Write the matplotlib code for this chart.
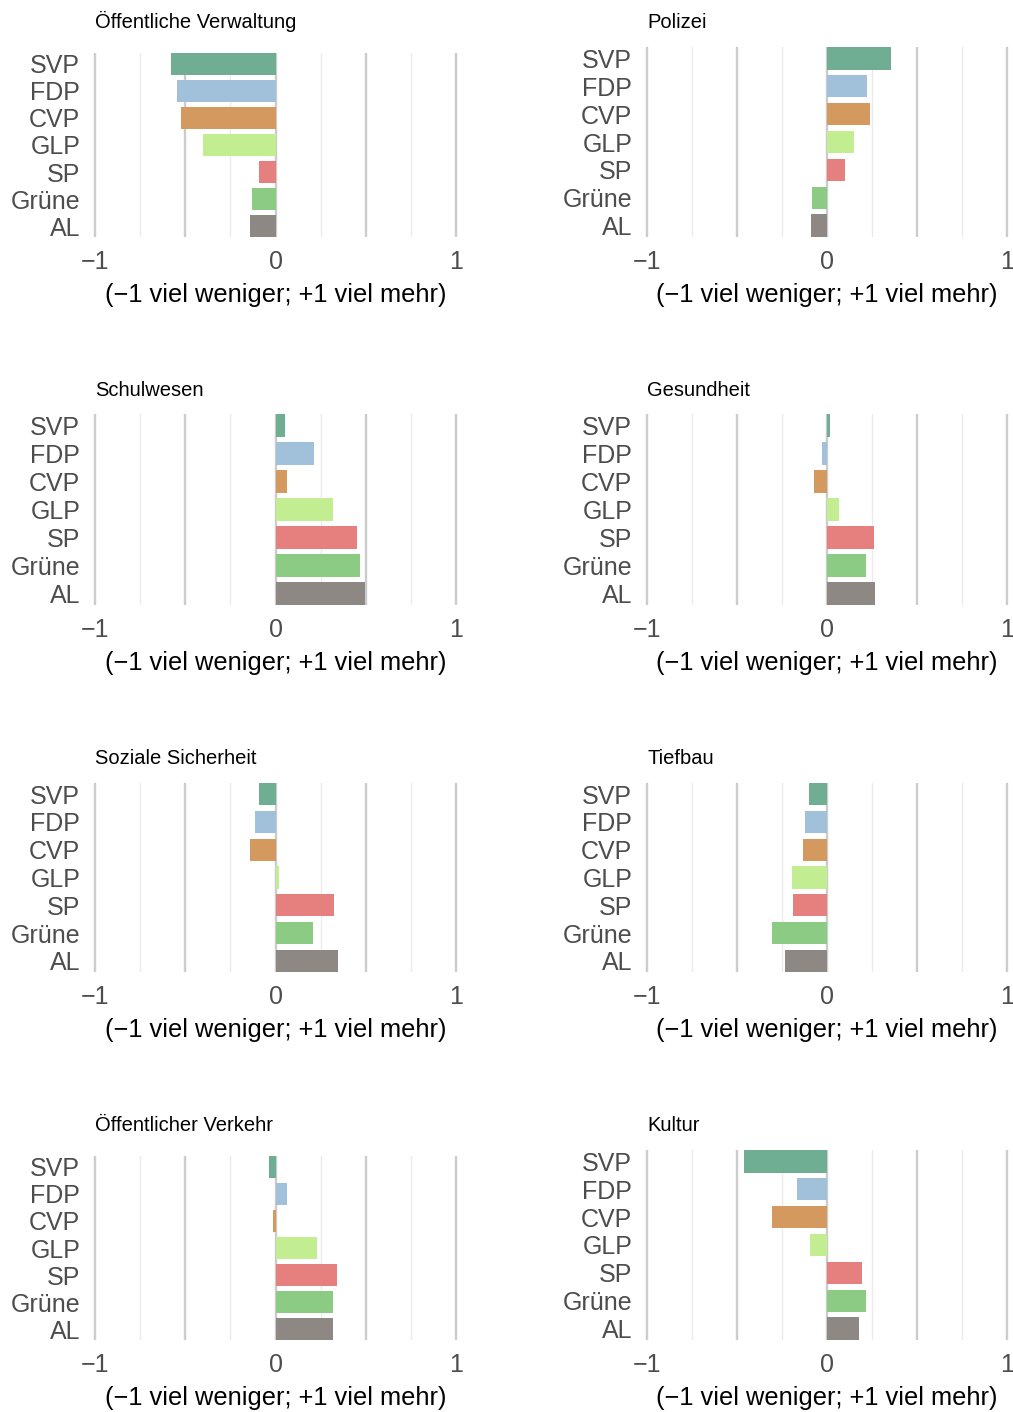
import matplotlib
matplotlib.use("Agg")
import matplotlib.pyplot as plt

plt.rcParams['font.family'] = ['Liberation Sans', 'DejaVu Sans']

# parties (top to bottom) and their colours
parteien = ['SVP', 'FDP', 'CVP', 'GLP', 'SP', 'Grüne', 'AL']
farben = ['#6fae93', '#a1c1da', '#d4995f', '#c2ed91', '#e5807f', '#8bcb84', '#8e8884']

# mean answers per topic (-1 viel weniger ... +1 viel mehr)
verwaltung = [-0.578, -0.544, -0.522, -0.40, -0.089, -0.128, -0.139]
polizei = [0.356, 0.222, 0.239, 0.15, 0.10, -0.083, -0.089]
schulwesen = [0.05, 0.216, 0.061, 0.316, 0.449, 0.466, 0.494]
gesundheit = [0.017, -0.026, -0.07, 0.068, 0.262, 0.218, 0.267]
soziales = [-0.089, -0.111, -0.139, 0.022, 0.322, 0.205, 0.344]
tiefbau = [-0.098, -0.12, -0.133, -0.194, -0.187, -0.304, -0.232]
verkehr = [-0.037, 0.065, -0.013, 0.228, 0.343, 0.32, 0.32]
kultur = [-0.459, -0.165, -0.304, -0.093, 0.196, 0.218, 0.179]

titel = ['Öffentliche Verwaltung', 'Polizei', 'Schulwesen', 'Gesundheit',
         'Soziale Sicherheit', 'Tiefbau', 'Öffentlicher Verkehr', 'Kultur']
werte = [verwaltung, polizei, schulwesen, gesundheit, soziales, tiefbau, verkehr, kultur]

W, H = 1013, 1412
fig = plt.figure(figsize=(W / 100, H / 100), dpi=100)

# pixel layout: (x of -1, x of +1), rows: (top, bottom, title baseline)
cols = [(95, 456), (647, 1007)]
rows = [
    [(53, 237, 28), (47, 237, 28)],
    [(414, 605, 396), (414, 605, 396)],
    [(783, 972, 764), (783, 972, 764)],
    [(1156, 1340, 1131), (1150, 1340, 1131)],
]

bh = 0.81
n = len(parteien)

for i, (t, vals) in enumerate(zip(titel, werte)):
    r, c = divmod(i, 2)
    xm, xp = cols[c]
    top, bottom, tb = rows[r][c]
    unit = (xp - xm) / 2
    left = xm - 0.02 * unit
    ax = fig.add_axes([left / W, 1 - bottom / H, 2.04 * unit / W, (bottom - top) / H])

    ax.barh(range(n), vals, height=bh, color=farben, zorder=3)
    ax.set_xlim(-1.02, 1.02)
    ax.set_ylim(n - 1 + bh / 2, -bh / 2)

    for g in [-0.75, -0.25, 0.25, 0.75]:
        ax.axvline(g, color='#ebebeb', lw=1.0, zorder=1)
    for g in [-1, -0.5, 0, 0.5, 1]:
        ax.axvline(g, color='#cccccc', lw=1.7, zorder=2)

    ax.set_xticks([-1, 0, 1])
    ax.set_xticklabels(['\u22121', '0', '1'], fontsize=18, color='#4d4d4d')
    ax.set_yticks(range(n))
    ax.set_yticklabels(parteien, fontsize=18, color='#4d4d4d')
    ax.tick_params(axis='x', length=0, pad=9.5)
    ax.tick_params(axis='y', length=0, pad=8)
    ax.set_xlabel('(\u22121 viel weniger; +1 viel mehr)', fontsize=18.3, color='black', labelpad=6)
    for s in ax.spines.values():
        s.set_visible(False)

    fig.text(xm / W, 1 - tb / H, t, fontsize=14.5, color='black', va='baseline', ha='left')

fig.savefig('out.png', dpi=100)
